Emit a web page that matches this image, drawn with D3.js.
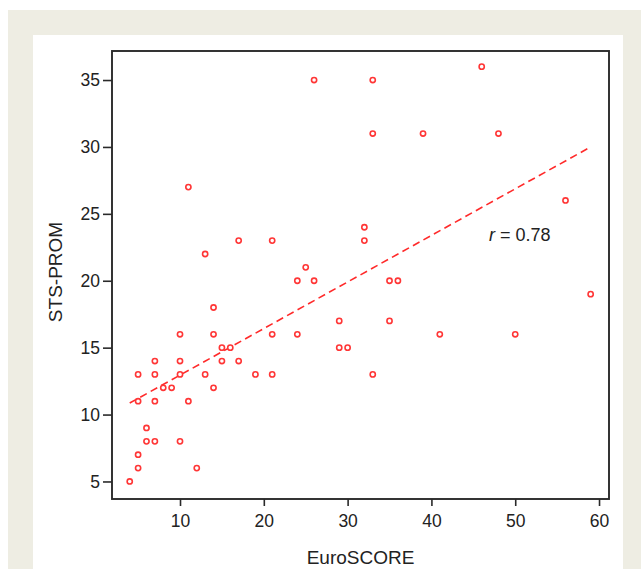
<!DOCTYPE html>
<html>
<head>
<meta charset="utf-8">
<script src="https://cdn.jsdelivr.net/npm/d3@7"></script>
<style>
  html, body { margin: 0; padding: 0; background: #ffffff; }
  svg { display: block; }
  text { font-family: "Liberation Sans", Arial, Helvetica, sans-serif; fill: #222; }
</style>
</head>
<body>
<svg id="chart" width="641" height="569"></svg>
<script>
// ---- data ----
const euroScore = [4,5,5,5,5,6,6,7,7,7,7,8,9,10,10,10,10,11,11,12,13,13,14,14,14,15,15,16,17,17,19,21,21,21,24,24,25,26,26,29,29,30,32,32,33,33,33,35,35,36,39,41,46,48,50,56,59];
const stsProm   = [5,6,7,11,13,8,9,8,11,13,14,12,12,8,13,14,16,11,27,6,13,22,12,16,18,14,15,15,14,23,13,13,16,23,16,20,21,20,35,15,17,15,23,24,13,31,35,17,20,20,31,16,36,31,16,26,19];
const xTicks = [10,20,30,40,50,60];
const yTicks = [5,10,15,20,25,30,35];
const fitX = [4, 59];
const fitY = [10.86, 30.0];
const rLabel = "0.78";
const xTitle = "EuroSCORE";
const yTitle = "STS-PROM";

// ---- layout ----
const svg = d3.select("#chart");
svg.append("rect").attr("x",8).attr("y",10).attr("width",633).attr("height",559).attr("fill","#eeede3");
svg.append("rect").attr("x",33).attr("y",35).attr("width",590).attr("height",534).attr("fill","#ffffff");

const L = 112, R = 609, T = 51, B = 499;
const x = d3.scaleLinear().domain([1.885, 61.19]).range([L, R]);
const y = d3.scaleLinear().domain([3.69, 37.17]).range([B, T]);

const axisColor = "#2a2a2a";

// axes
const gx = svg.append("g").attr("transform", `translate(0,${B})`)
  .call(d3.axisBottom(x).tickValues(xTicks).tickSize(7).tickPadding(9).tickSizeOuter(0));
const gy = svg.append("g").attr("transform", `translate(${L},0)`)
  .call(d3.axisLeft(y).tickValues(yTicks).tickSize(9).tickPadding(3).tickSizeOuter(0));
[gx, gy].forEach(g => {
  g.select(".domain").remove();
  g.selectAll(".tick line").attr("stroke", axisColor).attr("stroke-width", 1.6);
  g.selectAll(".tick text").style("font-size", "17.5px").attr("fill", "#1e1e1e")
    .style("font-family", '"Liberation Sans", Arial, sans-serif');
});

// frame
svg.append("rect").attr("x", L).attr("y", T).attr("width", R - L).attr("height", B - T)
  .attr("fill", "none").attr("stroke", axisColor).attr("stroke-width", 1.9);

// regression line
svg.append("line")
  .attr("x1", x(fitX[0])).attr("y1", y(fitY[0]))
  .attr("x2", x(fitX[1])).attr("y2", y(fitY[1]))
  .attr("stroke", "#ff2a2a").attr("stroke-width", 1.6).attr("stroke-dasharray", "7.5,4.5");

// points
const pts = euroScore.map((v, i) => ({ x: v, y: stsProm[i] }));
svg.append("g").selectAll("circle").data(pts).enter().append("circle")
  .attr("cx", d => x(d.x)).attr("cy", d => y(d.y)).attr("r", 2.6)
  .attr("fill", "#ffffff").attr("stroke", "#ff3636").attr("stroke-width", 1.6);

// r label
const rt = svg.append("text").attr("x", 489).attr("y", 241).style("font-size", "18px").attr("fill", "#1e1e1e");
rt.append("tspan").style("font-style", "italic").text("r");
rt.append("tspan").text(" = " + rLabel);

// axis titles
svg.append("text").attr("x", (L + R) / 2).attr("y", 564).attr("text-anchor", "middle")
  .style("font-size", "19px").attr("fill", "#1e1e1e").text(xTitle);
svg.append("text").attr("transform", `translate(61.5,${(T + B) / 2 - 3}) rotate(-90)`)
  .attr("text-anchor", "middle").style("font-size", "19px").attr("fill", "#1e1e1e").text(yTitle);
</script>
</body>
</html>
